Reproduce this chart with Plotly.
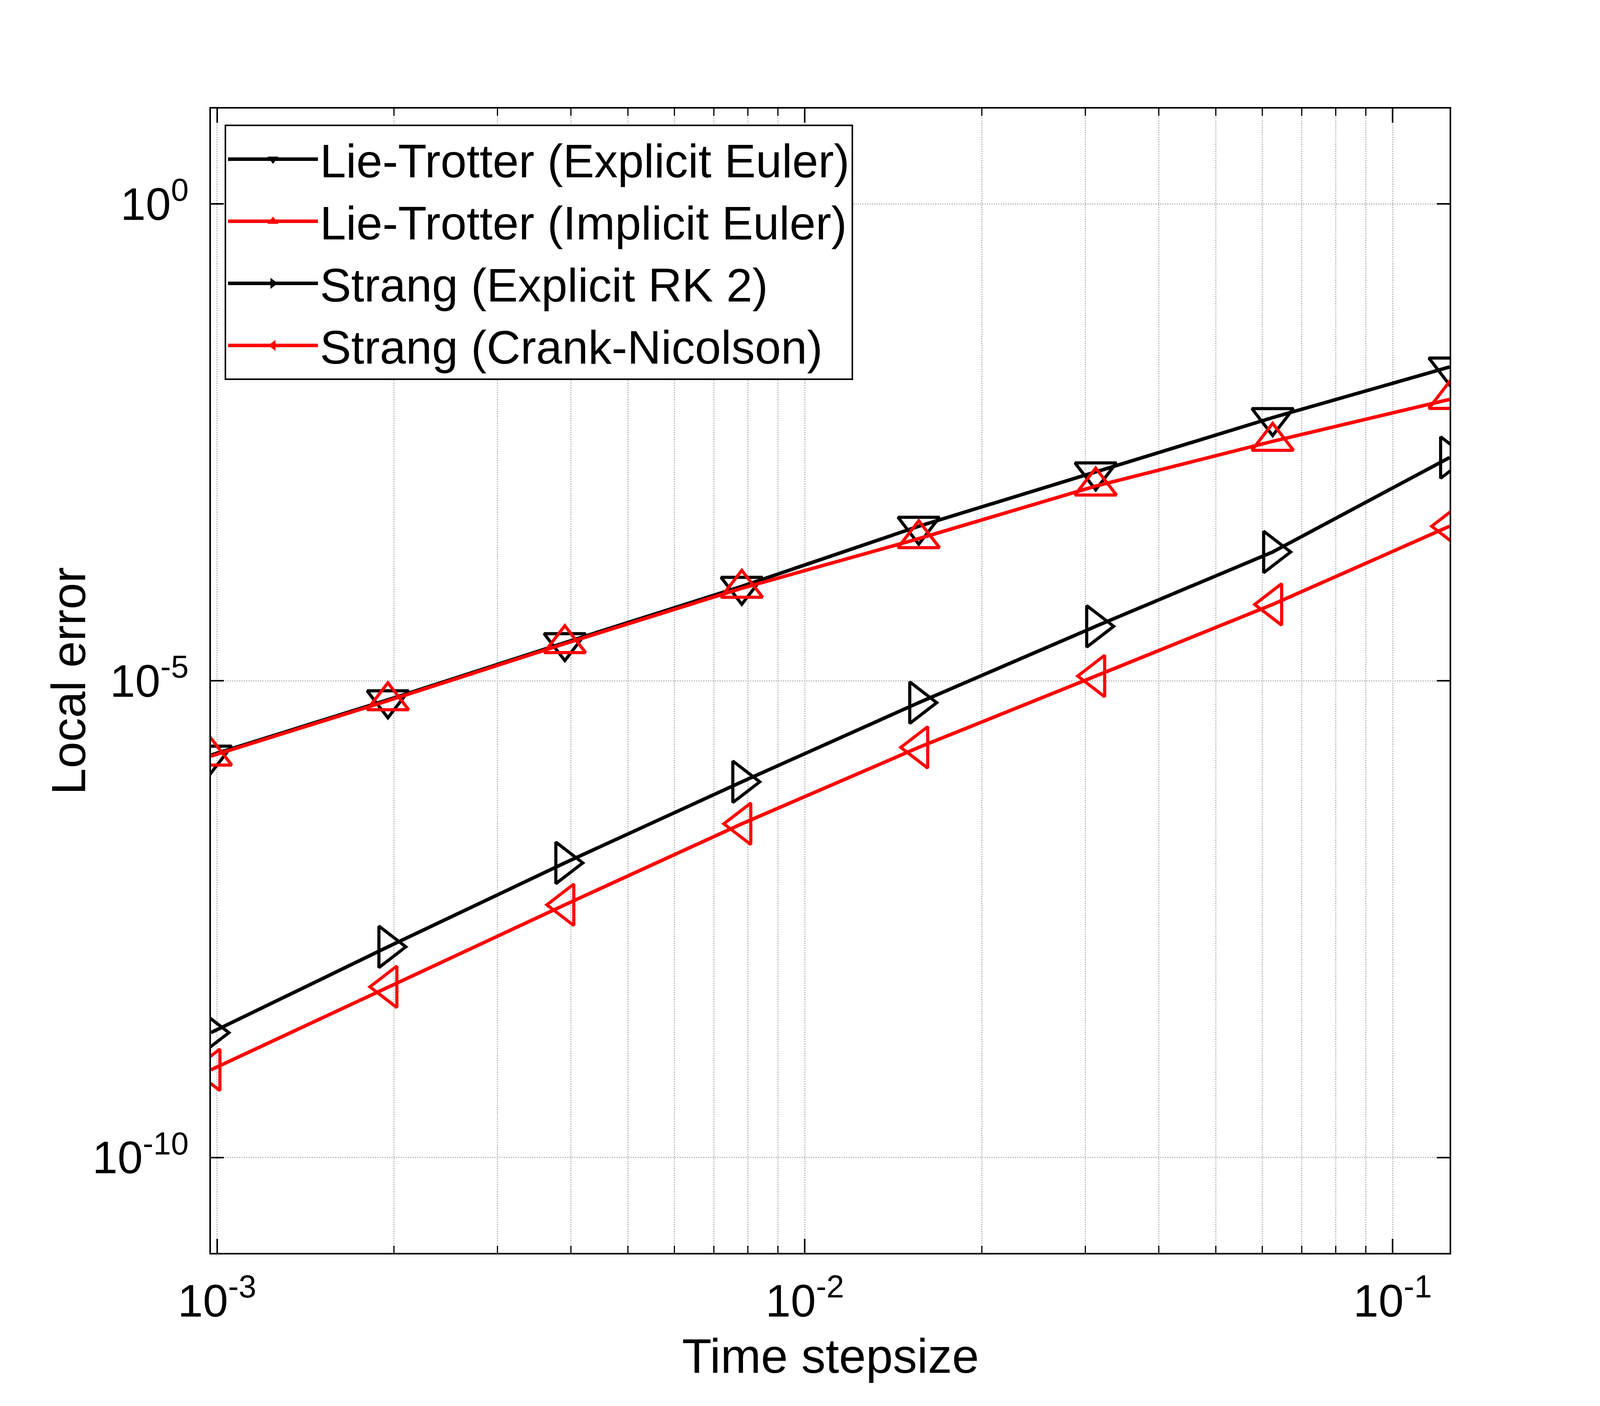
import plotly.graph_objects as go

# time stepsizes (2^-10 ... 2^-3)
stepsize = [0.0009765625, 0.001953125, 0.00390625, 0.0078125,
            0.015625, 0.03125, 0.0625, 0.125]

# local errors
lt_explicit = [1.66e-6, 6.31e-6, 2.51e-5, 9.77e-5, 4.17e-4, 1.55e-3, 5.75e-3, 1.95e-2]
lt_implicit = [1.62e-6, 6.17e-6, 2.45e-5, 9.33e-5, 3.09e-4, 1.10e-3, 3.24e-3, 8.91e-3]
strang_rk2 = [2.04e-9, 1.62e-8, 1.23e-7, 8.71e-7, 5.89e-6, 3.72e-5, 2.24e-4, 2.19e-3]
strang_cn = [8.32e-10, 6.17e-9, 4.47e-8, 3.16e-7, 2.00e-6, 1.12e-5, 6.31e-5, 4.17e-4]

x_ticks = [1e-3, 1e-2, 1e-1]
x_ticklabels = ["10<sup>-3</sup>", "10<sup>-2</sup>", "10<sup>-1</sup>"]
y_ticks = [1e-10, 1e-5, 1e0]
y_ticklabels = ["10<sup>-10</sup>", "10<sup>-5</sup>", "10<sup>0</sup>"]
x_minor = [m * 10.0 ** e for e in (-4, -3, -2, -1) for m in range(2, 10)]

FONT = "Liberation Sans, Arial, sans-serif"
FS = 120
TICK_FS = 116
LW = 9
MS = 92

series = [
    ("Lie-Trotter (Explicit Euler)", lt_explicit, "black", "triangle-down-open"),
    ("Lie-Trotter (Implicit Euler)", lt_implicit, "#ff0000", "triangle-up-open"),
    ("Strang (Explicit RK 2)", strang_rk2, "black", "triangle-right-open"),
    ("Strang (Crank-Nicolson)", strang_cn, "#ff0000", "triangle-left-open"),
]

fig = go.Figure()
for name, vals, col, sym in series:
    fig.add_trace(go.Scatter(
        x=stepsize, y=vals, name=name, mode="lines+markers",
        line=dict(color=col, width=LW),
        marker=dict(symbol=sym, size=MS, color=col, line=dict(color=col, width=8)),
    ))

grid = dict(gridcolor="#b8b8b8", gridwidth=3, griddash="dot")

# the browser window is 4096 px wide, so the figure fills 4096x3600
fig.update_layout(
    width=4096, height=3600,
    margin=dict(l=532, r=393, t=270, b=400),
    paper_bgcolor="white", plot_bgcolor="white",
    font=dict(family=FONT, size=FS, color="black"),
    showlegend=True,
    legend=dict(
        x=0.011, y=0.986, xanchor="left", yanchor="top",
        bgcolor="white", bordercolor="black", borderwidth=4,
        font=dict(family=FONT, size=FS, color="black"),
        itemwidth=230, tracegroupgap=0,
    ),
    xaxis=dict(
        type="log",
        range=[-3.0103, -0.9031],
        tickmode="array", tickvals=x_ticks, ticktext=x_ticklabels,
        ticks="inside", ticklen=36, tickwidth=4, tickcolor="black",
        ticklabelstandoff=20,
        showline=True, linecolor="black", linewidth=4, mirror="ticks",
        showgrid=True, **grid,
        minor=dict(tickmode="array", tickvals=x_minor, ticks="inside", ticklen=18,
                   tickwidth=3, tickcolor="black", showgrid=True, **grid),
        zeroline=False,
        tickfont=dict(size=TICK_FS),
    ),
    yaxis=dict(
        type="log",
        range=[-11, 1],
        tickmode="array", tickvals=y_ticks, ticktext=y_ticklabels,
        ticks="inside", ticklen=33, tickwidth=4, tickcolor="black",
        ticklabelstandoff=30,
        showline=True, linecolor="black", linewidth=4, mirror="ticks",
        showgrid=True, **grid,
        zeroline=False,
        tickfont=dict(size=TICK_FS),
    ),
    annotations=[
        dict(text="Time stepsize", xref="paper", yref="paper", x=0.5, y=-0.090,
             xanchor="center", yanchor="middle", showarrow=False,
             font=dict(family=FONT, size=124, color="black")),
        dict(text="Local error", xref="paper", yref="paper", x=-0.1148, y=0.5,
             xanchor="center", yanchor="middle", textangle=-90, showarrow=False,
             font=dict(family=FONT, size=122, color="black")),
    ],
)

fig.write_html("out.html")
